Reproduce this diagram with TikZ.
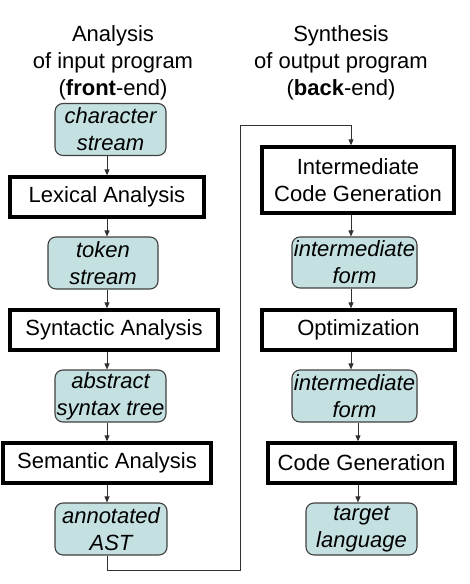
\documentclass[tikz,border=0pt]{standalone}
\usepackage{fontspec}
\setmainfont{Liberation Sans}
\usetikzlibrary{arrows.meta}
\definecolor{boxfill}{HTML}{C4E0E0}
\definecolor{boxline}{HTML}{404040}
\definecolor{conn}{HTML}{303030}
\begin{document}
\begin{tikzpicture}[x=1pt,y=-1pt,
  every node/.style={font=\fontsize{22}{27}\selectfont, align=center, inner sep=0pt},
  phase/.style={draw=black, line width=3.4pt, fill=white},
  data/.style={draw=boxline, line width=1.1pt, fill=boxfill, rounded corners=8pt, font=\fontsize{22}{27}\selectfont\itshape},
  arr/.style={draw=conn, line width=0.9pt, -{Triangle[length=6pt,width=5pt]}},
  ln/.style={draw=conn, line width=0.9pt}]
\useasboundingbox (0,0) rectangle (470,584);
% headers
\node (hl) at (113,63) {Analysis\\of input program\\(\textbf{front}-end)};
\node (hr) at (341,63) {Synthesis\\of output program\\(\textbf{back}-end)};
% left column
\node[data, minimum width=111, minimum height=52] (cs) at (110.5,129.5) {character\\stream};
\node[phase, minimum width=194, minimum height=40] (lex) at (107,197) {Lexical Analysis};
\node[data, minimum width=110, minimum height=52] (ts) at (103,263) {token\\stream};
\node[phase, minimum width=208, minimum height=40] (syn) at (114,330) {Syntactic Analysis};
\node[data, minimum width=111, minimum height=52] (ast) at (110.5,396) {abstract\\syntax tree};
\node[phase, minimum width=208, minimum height=40] (sem) at (107,463) {Semantic Analysis};
\node[data, minimum width=112, minimum height=52] (aast) at (111,529) {annotated\\AST};
% right column
\node[phase, minimum width=192, minimum height=66] (icg) at (358,180) {Intermediate\\Code Generation};
\node[data, minimum width=125, minimum height=51] (if1) at (354.5,262.5) {intermediate\\form};
\node[phase, minimum width=193, minimum height=40] (opt) at (358.5,330) {Optimization};
\node[data, minimum width=125, minimum height=52] (if2) at (354.5,396) {intermediate\\form};
\node[phase, minimum width=187, minimum height=40] (cg) at (361.5,463) {Code Generation};
\node[data, minimum width=111, minimum height=52] (tl) at (361.5,529) {target\\language};
% helper coordinates
\coordinate (xl) at (107,0);
\coordinate (xr) at (351,0);
\coordinate (xr2) at (358,0);
\coordinate (lowy) at (0,570);
\coordinate (topy) at (0,125);
\coordinate (midx) at (240,0);
% left arrows
\draw[arr] (cs.south -| xl) -- (lex.north -| xl);
\draw[arr] (lex.south -| xl) -- (ts.north -| xl);
\draw[arr] (ts.south -| xl) -- (syn.north -| xl);
\draw[arr] (syn.south -| xl) -- (ast.north -| xl);
\draw[arr] (ast.south -| xl) -- (sem.north -| xl);
\draw[arr] (sem.south -| xl) -- (aast.north -| xl);
% feedback connector
\draw[arr] (aast.south -| xl) -- (lowy -| xl) -- (lowy -| midx) -- (topy -| midx) -- (topy -| xr) -- (icg.north -| xr);
% right arrows
\draw[arr] (icg.south -| xr) -- (if1.north -| xr);
\draw[arr] (if1.south -| xr) -- (opt.north -| xr);
\draw[arr] (opt.south -| xr) -- (if2.north -| xr);
\draw[arr] (if2.south -| xr2) -- (cg.north -| xr2);
\draw[arr] (cg.south -| xr2) -- (tl.north -| xr2);
\end{tikzpicture}
\end{document}
